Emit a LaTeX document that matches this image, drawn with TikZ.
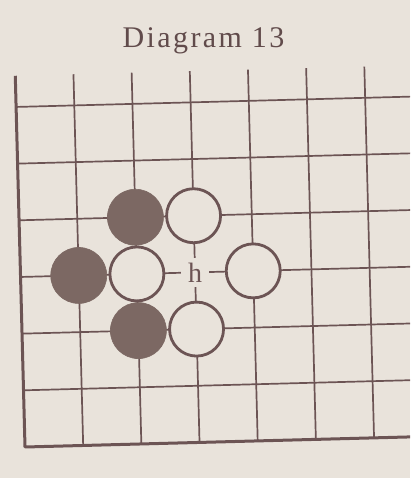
\documentclass[tikz,border=0pt]{standalone}
\usepackage{fontspec}
\setmainfont{Liberation Serif}
\newfontfamily\titlefont[LetterSpace=8]{Liberation Serif}

\definecolor{paper}{RGB}{233,227,219}
\definecolor{ink}{RGB}{108,84,84}
\definecolor{stone}{RGB}{124,104,99}

\tikzset{
  gridline/.style={draw=ink,line width=1.7pt},
  edgeline/.style={draw=ink,line width=3pt,line join=round},
  bstone/.style={circle,fill=stone,draw=stone,line width=0.6pt,minimum size=56pt,inner sep=0pt},
  wstone/.style={circle,fill=paper,draw=ink,line width=2.8pt,minimum size=54pt,inner sep=0pt},
  pointlabel/.style={fill=paper,text=ink,inner xsep=7pt,inner ysep=5pt,text depth=0pt,
    font=\fontsize{28}{28}\selectfont}
}

\begin{document}
\begin{tikzpicture}[x=1pt,y=1pt]
  \fill[paper] (0,0) rectangle (410,478);
  \useasboundingbox (0,0) rectangle (410,478);
  \clip (0,0) rectangle (410,478);

  \node[anchor=base,text=ink!90!black,font=\titlefont\fontsize{30}{30}\selectfont]
    (title) at (203.5,430) {Diagram 13};

  \begin{scope}[shift={(25,31)},rotate=1.5,x=58.2pt,y=56.7pt]
    \foreach \x in {0,...,6}{
        \foreach \y in {0,...,6}{
            \coordinate (a\x\y) at (\x,\y);
          }
        \coordinate (t\x) at (\x,6.55);
        \coordinate (r\x) at (7.5,\x);
      }

    % board
    \foreach \x in {1,...,6}{
        \draw[gridline] (t\x) -- (a\x0);
      }
    \foreach \y in {1,...,6}{
        \draw[gridline] (a0\y) -- (r\y);
      }
    \draw[edgeline] (t0) -- (a00) -- (r0);

    % stones
    \node[bstone] (b24) at (a24) {};
    \node[bstone] (b13) at (a13) {};
    \node[bstone] (b22) at (a22) {};
    \node[wstone] (w34) at (a34) {};
    \node[wstone] (w23) at (a23) {};
    \node[wstone] (w43) at (a43) {};
    \node[wstone] (w32) at (a32) {};

    \node[pointlabel] (h) at (a33) {h};
  \end{scope}
\end{tikzpicture}
\end{document}
